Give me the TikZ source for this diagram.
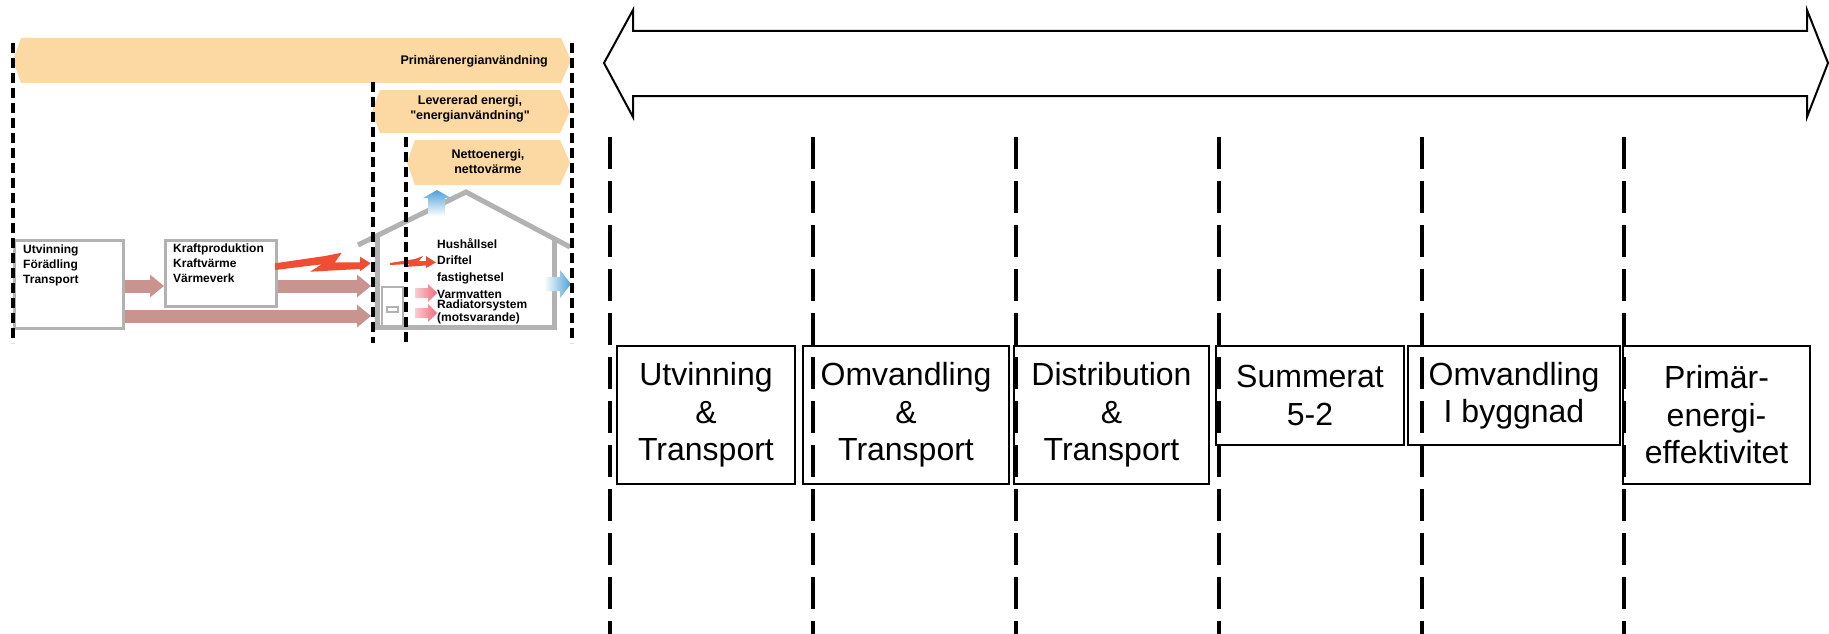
\documentclass[tikz,border=0pt]{standalone}
\usepackage{fontspec}
\setmainfont{Liberation Sans}[Ligatures=TeXOff]
\usetikzlibrary{arrows.meta}
\definecolor{bandorange}{RGB}{252,216,162}
\definecolor{housegray}{RGB}{178,178,178}
\definecolor{flowmauve}{RGB}{201,147,143}
\definecolor{elred}{RGB}{240,78,50}
\definecolor{heatpink}{RGB}{238,108,128}
\definecolor{lossblue}{RGB}{78,160,216}
\newcommand\EnergyBand[5]{%
    \fill[bandorange] (#1,{(#3+#4)/2}) -- (#1+8,#3) -- (#2-10,#3) -- (#2,{(#3+#4)/2}) -- (#2-10,#4) -- (#1+8,#4) -- cycle;
    \coordinate (#5) at ({(#1+#2)/2},{(#3+#4)/2});
}
\tikzset{
    small/.style={font=\fontsize{12}{15}\selectfont\bfseries, align=left, inner sep=0pt},
    bandtext/.style={font=\fontsize{12.5}{15}\selectfont\bfseries, align=center, inner sep=0pt},
    graybox/.style={draw=housegray, line width=2.5pt, inner sep=0pt},
    flow/.style={flowmauve, line width=13pt, -{Triangle[length=14pt,width=22pt]}},
    cut/.style={line width=3.2pt, dash pattern=on 10pt off 5pt},
    bigcut/.style={line width=4pt, dash pattern=on 32pt off 12pt},
    phase/.style={draw, line width=2pt, align=center, anchor=north west, inner sep=0pt,
        font=\fontsize{32}{37.5}\selectfont},
}

\begin{document}
\begin{tikzpicture}[x=1pt, y=-1pt]
    \useasboundingbox (0,0) rectangle (1829,634);

    % energy bands
    \EnergyBand{13}{571}{38}{83}{primband}
    \EnergyBand{372}{570}{90}{133}{levband}
    \EnergyBand{407}{570}{140}{185}{nettoband}
    \node[bandtext, anchor=east] (primtext) at (548,61) {Primärenergianvändning};
    \node[bandtext] (levtext) at (470,108.5) {Levererad energi,\\"energianvändning"};
    \node[bandtext] (nettotext) at (488,162) {Nettoenergi,\\nettovärme};

    % supply chain
    \node[graybox, minimum width=109pt, minimum height=88pt, anchor=north west] (utv) at (13,239) {};
    \node[small, anchor=north west] (utvtext) at (23,245) {Utvinning\\Förädling\\Transport};
    \node[graybox, minimum width=111pt, minimum height=66pt, anchor=north west] (kraft) at (164,239) {};
    \node[small, anchor=north west] (krafttext) at (173,244) {Kraftproduktion\\Kraftvärme\\Värmeverk};
    \coordinate (midflow) at (0,286);
    \coordinate (lowflow) at (0,316);
    \coordinate (wall) at (371,0);
    \draw[flow] (utv.east |- midflow) -- (kraft.west |- midflow);
    \draw[flow] (kraft.east |- midflow) -- (wall |- midflow);
    \draw[flow] (utv.east |- lowflow) -- (wall |- lowflow);
    \fill[elred] (275,263.3) -- (325,256) -- (341.7,252.7) -- (335,262.3) -- (360,262.3) -- (360,256.7)
        -- (370.7,263.3) -- (360,271.3) -- (360,269) -- (310,271.7) -- (321.7,264.3) -- (275,270) -- cycle;

    % house
    \draw[housegray, line width=5pt] (358,245) -- (466,192) coordinate (apex) -- (570,247);
    \draw[housegray, line width=5pt] (377,235) -- (377,327) -- (554,327) -- (554,238);
    \draw[housegray, line width=1.5pt] (382,325) -- (382,287) -- (403,287) -- (403,325);
    \draw[housegray, line width=1.2pt] (387,307) rectangle (398,312);
    \shade[top color=lossblue, bottom color=white] (428,216) -- (428,198) -- (423,198) -- (437,190)
        -- (451,198) -- (445,198) -- (445,216) -- cycle;
    \shade[left color=white, right color=lossblue] (544,277) -- (560,277) -- (560,270) -- (571,284)
        -- (560,298) -- (560,291) -- (544,291) -- cycle;
    \fill[elred] (390,263) -- (415,259) -- (423,256) -- (419,261) -- (426,261) -- (426,256)
        -- (436,262.5) -- (426,268) -- (426,265.5) -- (405,267) -- (410,264) -- (390,265) -- cycle;
    \foreach \y in {293,313}
        \shade[left color=heatpink!35, right color=heatpink] (415,\y-5) -- (428,\y-5) -- (428,\y-9)
            -- (437,\y) -- (428,\y+9) -- (428,\y+5) -- (415,\y+5) -- cycle;
    \node[small, anchor=north west] (eltext) at (437,238) {Hushållsel\\[1pt]Driftel\\[2pt]fastighetsel};
    \node[small, anchor=north west, font=\fontsize{12}{10.5}\selectfont\bfseries] (heattext) at (437,290)
        {Varmvatten\\Radiatorsystem\\(motsvarande)};

    \foreach \x/\top in {13/43,373/82,406/137,572/43}
        \draw[cut] (\x,\top) -- (\x,343);

    % phases
    \draw[line width=2pt, line join=miter] (604,63) -- (633,10) -- (633,31) -- (1807,31) -- (1807,10)
        -- (1828,63) -- (1807,117) -- (1807,96) -- (633,96) -- (633,117) -- cycle;
    \foreach \x in {610,813,1016,1219,1422,1624}
        \draw[bigcut] (\x,137) -- (\x,634);
    \node[phase, minimum width=178pt, minimum height=138pt] (utvinning) at (616,345) {Utvinning\\\&\\Transport};
    \node[phase, minimum width=206pt, minimum height=138pt] (omvandling) at (802,345) {Omvandling\\\&\\Transport};
    \node[phase, minimum width=195pt, minimum height=138pt] (distribution) at (1013,345) {Distribution\\\&\\Transport};
    \node[phase, minimum width=188pt, minimum height=99pt] (summerat) at (1215,345) {Summerat\\5-2};
    \node[phase, minimum width=212pt, minimum height=99pt] (byggnad) at (1407,345) {Omvandling\\I byggnad};
    \node[phase, minimum width=187pt, minimum height=138pt] (effektivitet) at (1622,345) {Primär-\\energi-\\effektivitet};
\end{tikzpicture}
\end{document}
